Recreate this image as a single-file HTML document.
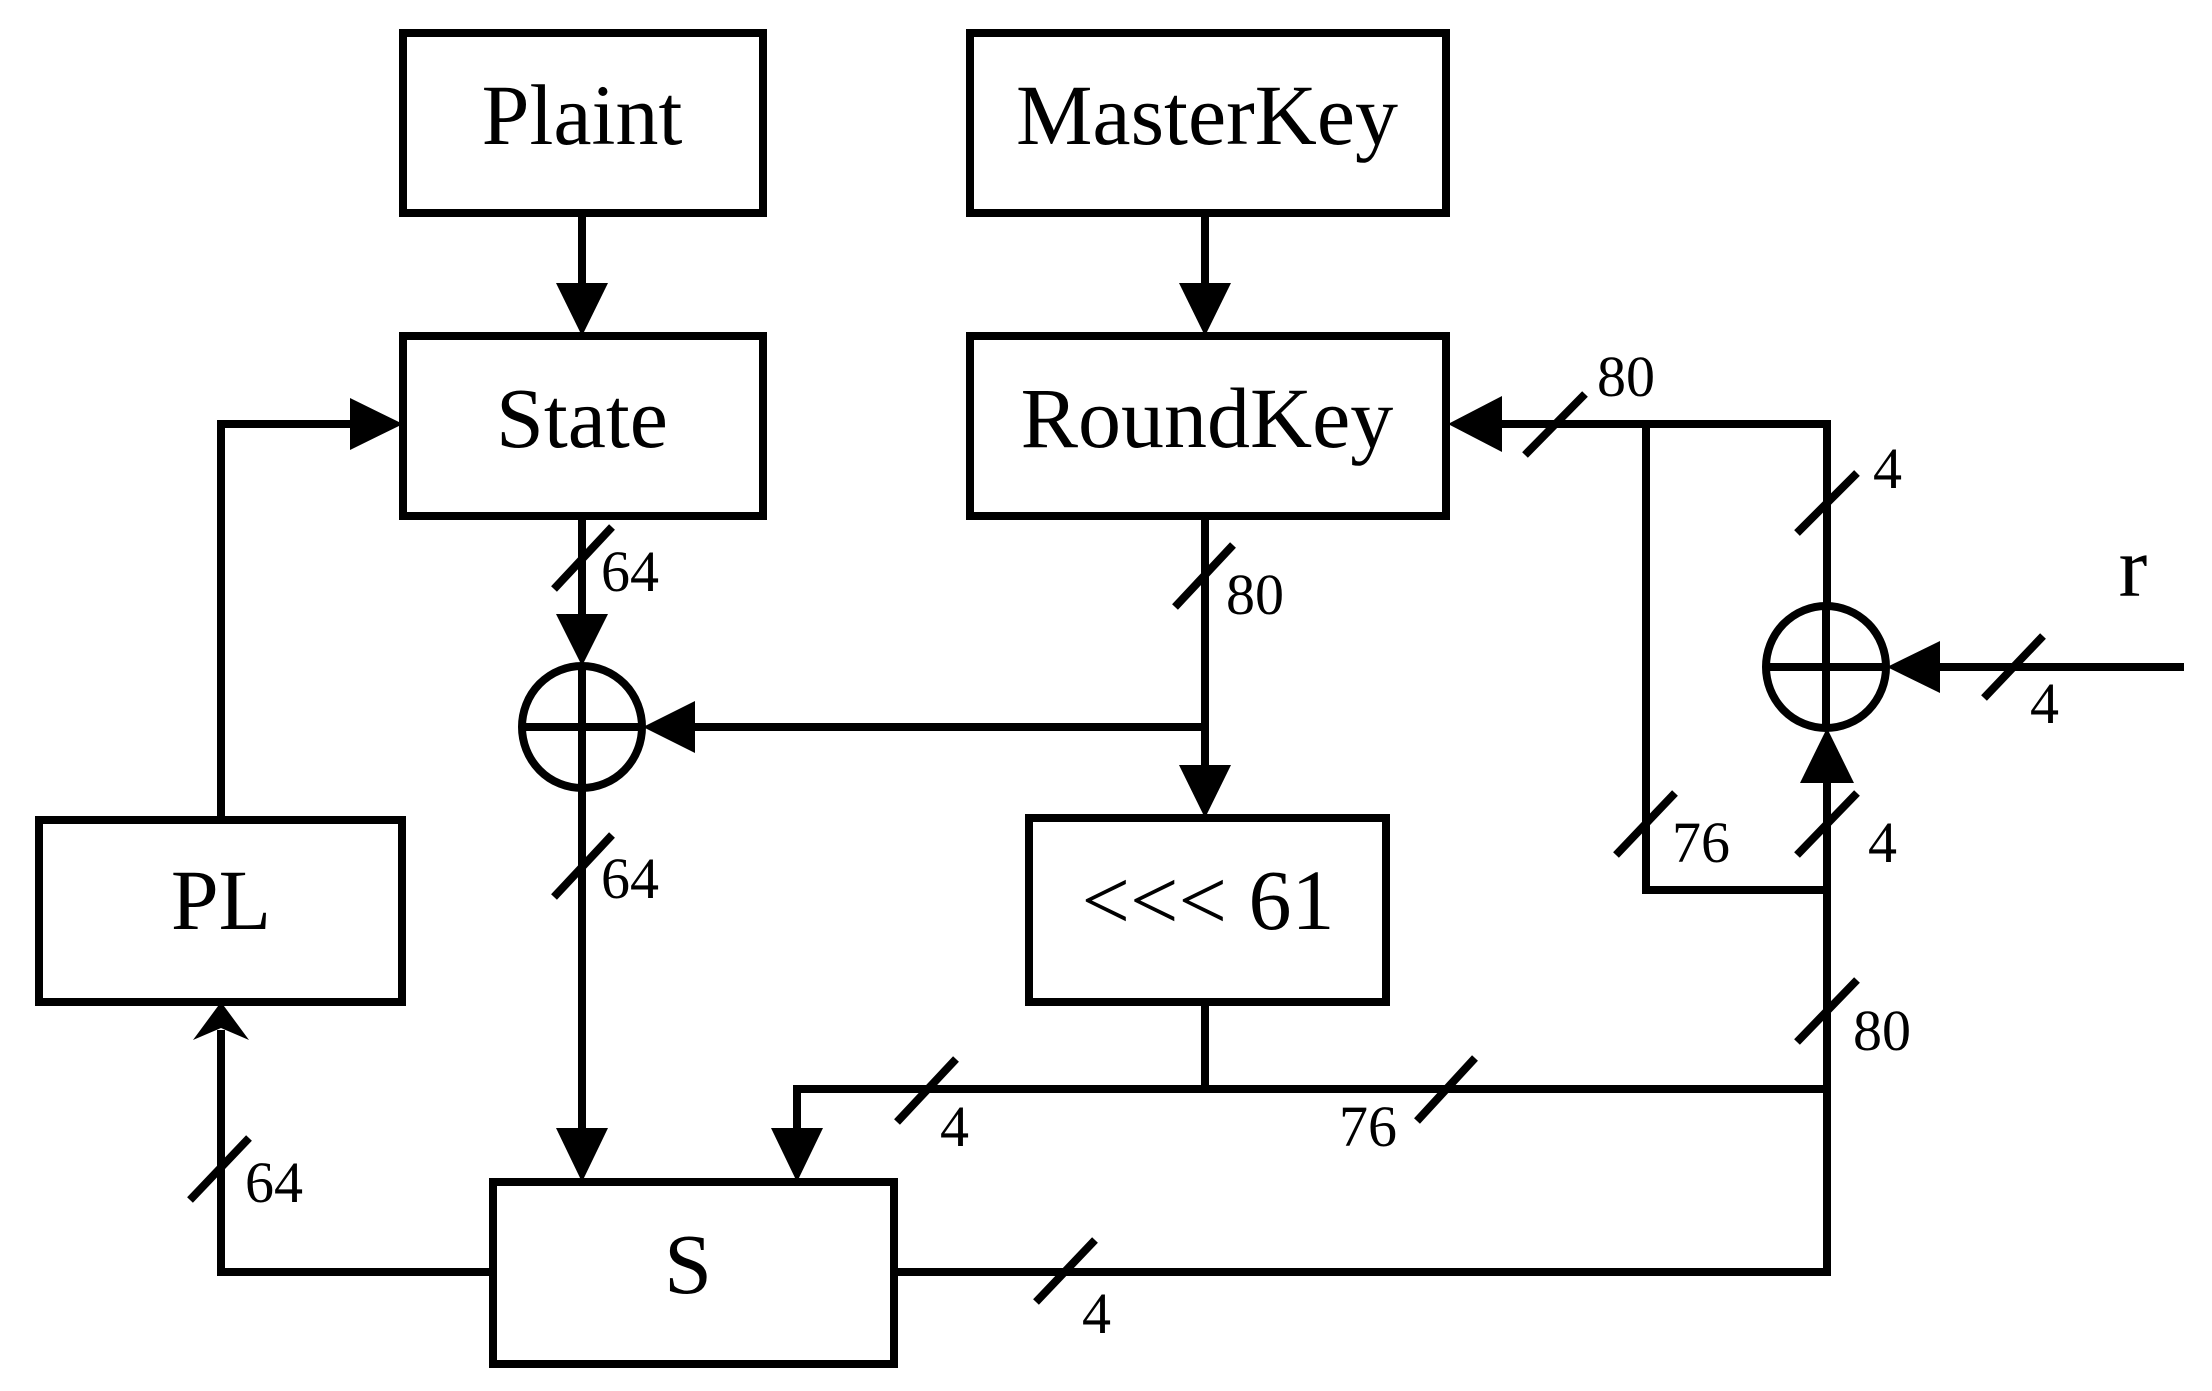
<!DOCTYPE html>
<html><head><meta charset="utf-8"><style>html,body{margin:0;padding:0;background:#fff}svg{display:block}text{font-family:"Liberation Serif","Times New Roman",serif}</style></head>
<body>
<svg width="2212" height="1391" viewBox="0 0 2212 1391" xmlns="http://www.w3.org/2000/svg">
<g fill="none" stroke="#000" stroke-width="8">
<rect x="403" y="33" width="360" height="180"/>
<rect x="403" y="336" width="360" height="180"/>
<rect x="970" y="33" width="476" height="180"/>
<rect x="970" y="336" width="476" height="180"/>
<rect x="39" y="820" width="363" height="182"/>
<rect x="1029" y="818" width="357" height="184"/>
<rect x="493" y="1182" width="401" height="182"/>
<ellipse cx="582" cy="727" rx="60" ry="61"/>
<ellipse cx="1826" cy="667" rx="60" ry="61"/>
<line x1="582" y1="216" x2="582" y2="290"/>
<line x1="1205" y1="216" x2="1205" y2="290"/>
<line x1="582" y1="518" x2="582" y2="620"/>
<line x1="582" y1="666" x2="582" y2="788"/>
<line x1="522" y1="727" x2="643" y2="727"/>
<line x1="1766" y1="667" x2="1887" y2="667"/>
<line x1="1826" y1="606" x2="1826" y2="728"/>
<polyline points="221,820 221,424 355,424"/>
<line x1="690" y1="727" x2="1205" y2="727"/>
<line x1="1205" y1="518" x2="1205" y2="770"/>
<line x1="582" y1="788" x2="582" y2="1130"/>
<polyline points="493,1272 221,1272 221,1030"/>
<polyline points="1205,1000 1205,1089"/>
<polyline points="797,1130 797,1089 1827,1089"/>
<polyline points="894,1272 1827,1272 1827,780"/>
<polyline points="1827,606 1827,424 1498,424"/>
<polyline points="1646,424 1646,890 1827,890"/>
<line x1="1935" y1="667" x2="2184" y2="667"/>
<line x1="554" y1="589" x2="612" y2="527"/>
<line x1="554" y1="897" x2="612" y2="835"/>
<line x1="190" y1="1200" x2="249" y2="1138"/>
<line x1="897" y1="1122" x2="956" y2="1059"/>
<line x1="1036" y1="1302" x2="1095" y2="1240"/>
<line x1="1417" y1="1121" x2="1475" y2="1058"/>
<line x1="1175" y1="607" x2="1233" y2="545"/>
<line x1="1525" y1="455" x2="1585" y2="394"/>
<line x1="1797" y1="533" x2="1857" y2="473"/>
<line x1="1984" y1="698" x2="2043" y2="636"/>
<line x1="1616" y1="855" x2="1675" y2="793"/>
<line x1="1797" y1="855" x2="1857" y2="793"/>
<line x1="1797" y1="1042" x2="1857" y2="980"/>
</g>
<g fill="#000">
<polygon points="556,283 608,283 582,336"/>
<polygon points="1179,283 1231,283 1205,336"/>
<polygon points="556,614 608,614 582,666"/>
<polygon points="350,398 350,450 403,424"/>
<polygon points="695,701 695,753 643,727"/>
<polygon points="556,1128 608,1128 582,1182"/>
<polygon points="771,1128 823,1128 797,1182"/>
<polygon points="1179,765 1231,765 1205,818"/>
<polygon points="1502,396 1502,452 1448,424"/>
<polygon points="1940,641 1940,693 1887,667"/>
<polygon points="1800,783 1854,783 1827,728"/>
<polygon points="193,1040 221,1028 249,1040 221,1002"/>
</g>
<g fill="#000" text-anchor="middle" font-size="86">
<text x="582" y="144">Plaint</text>
<text x="582" y="447">State</text>
<text x="1207" y="144">MasterKey</text>
<text x="1207" y="447">RoundKey</text>
<text x="221" y="929">PL</text>
<text x="1208" y="929">&lt;&lt;&lt; 61</text>
<text x="688" y="1293">S</text>
<text x="2133" y="596">r</text>
</g>
<g fill="#000" font-size="58">
<text x="601" y="591">64</text>
<text x="601" y="898">64</text>
<text x="245" y="1202">64</text>
<text x="940" y="1146">4</text>
<text x="1082" y="1333">4</text>
<text x="1339" y="1146">76</text>
<text x="1226" y="614">80</text>
<text x="1597" y="396">80</text>
<text x="1873" y="488">4</text>
<text x="2030" y="723">4</text>
<text x="1672" y="862">76</text>
<text x="1868" y="862">4</text>
<text x="1853" y="1050">80</text>
</g>
</svg>
</body></html>
